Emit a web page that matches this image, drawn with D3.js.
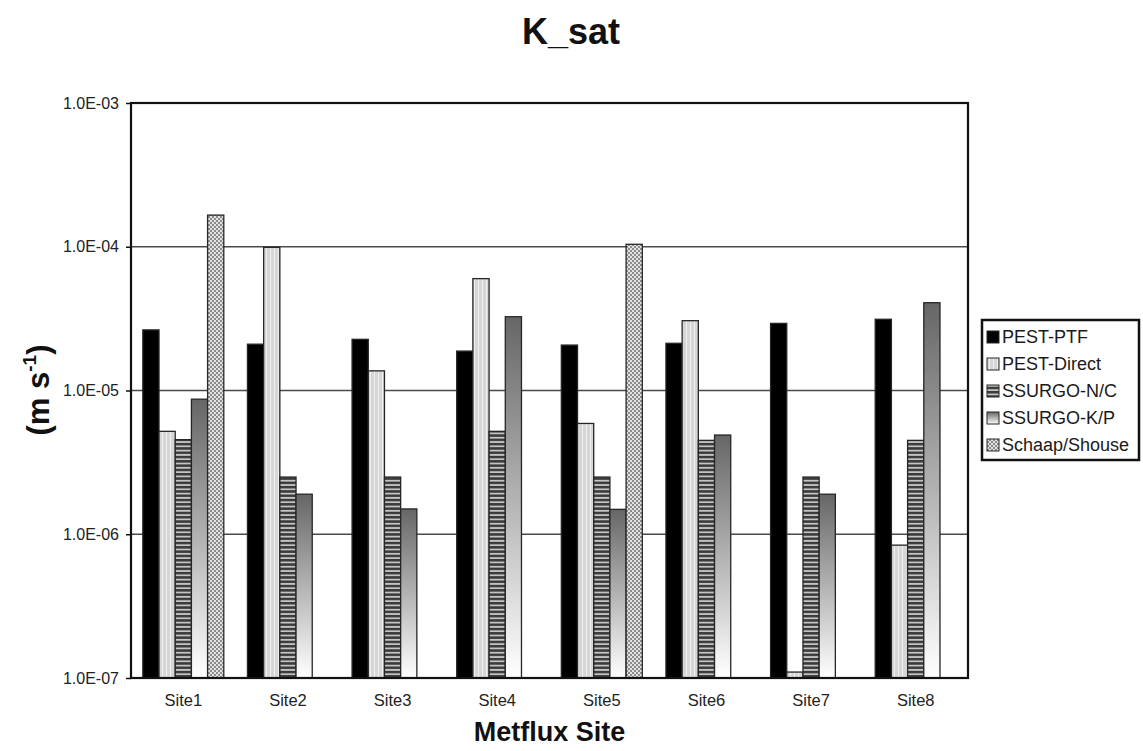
<!DOCTYPE html>
<html>
<head>
<meta charset="utf-8">
<script src="https://cdn.jsdelivr.net/npm/d3@7"></script>
<style>
  html, body { margin: 0; padding: 0; background: #fff; }
  svg { display: block; font-family: "Liberation Sans", Arial, Helvetica, sans-serif; }
</style>
</head>
<body>
<svg id="chart" width="1143" height="751"></svg>
<script>
// Saturated hydraulic conductivity by site and estimation method
const sites = ["Site1", "Site2", "Site3", "Site4", "Site5", "Site6", "Site7", "Site8"];
const seriesNames = ["PEST-PTF", "PEST-Direct", "SSURGO-N/C", "SSURGO-K/P", "Schaap/Shouse"];

const pestPTF    = [2.64e-5, 2.1e-5, 2.27e-5, 1.88e-5, 2.07e-5, 2.13e-5, 2.93e-5, 3.13e-5];
const pestDirect = [5.2e-6, 9.9e-5, 1.37e-5, 6.0e-5, 5.9e-6, 3.06e-5, 1.1e-7, 8.4e-7];
const ssurgoNC   = [4.55e-6, 2.5e-6, 2.5e-6, 5.2e-6, 2.5e-6, 4.5e-6, 2.5e-6, 4.5e-6];
const ssurgoKP   = [8.7e-6, 1.9e-6, 1.5e-6, 3.26e-5, 1.49e-6, 4.9e-6, 1.9e-6, 4.08e-5];
const schaap     = [1.66e-4, null, null, null, 1.04e-4, null, null, null];

const yTicks = [1e-7, 1e-6, 1e-5, 1e-4, 1e-3];
const yTickLabels = ["1.0E-07", "1.0E-06", "1.0E-05", "1.0E-04", "1.0E-03"];

const seriesValues = [pestPTF, pestDirect, ssurgoNC, ssurgoKP, schaap];
const fills = ["#000000", "url(#pDirect)", "url(#pNC)", "url(#gKP)", "url(#pSchaap)"];

const svg = d3.select("#chart");
const plot = { left: 131, right: 968, top: 103, bottom: 678 };

// ---- fill patterns ----
const defs = svg.append("defs");

const pDirect = defs.append("pattern").attr("id", "pDirect")
  .attr("patternUnits", "userSpaceOnUse").attr("width", 4).attr("height", 4);
pDirect.append("rect").attr("width", 4).attr("height", 4).attr("fill", "#d6d6d6");
pDirect.append("rect").attr("x", 2).attr("width", 1).attr("height", 4).attr("fill", "#f0f0f0");

const pNC = defs.append("pattern").attr("id", "pNC")
  .attr("patternUnits", "userSpaceOnUse").attr("width", 4).attr("height", 4.3);
pNC.append("rect").attr("width", 4).attr("height", 4.3).attr("fill", "#c4c4c4");
pNC.append("rect").attr("y", 0).attr("width", 4).attr("height", 2.5).attr("fill", "#3a3a3a");

const gKP = defs.append("linearGradient").attr("id", "gKP")
  .attr("x1", 0).attr("y1", 0).attr("x2", 0).attr("y2", 1);
gKP.append("stop").attr("offset", "0%").attr("stop-color", "#666666");
gKP.append("stop").attr("offset", "100%").attr("stop-color", "#ffffff");

const pSchaap = defs.append("pattern").attr("id", "pSchaap")
  .attr("patternUnits", "userSpaceOnUse").attr("width", 4).attr("height", 4);
pSchaap.append("rect").attr("width", 4).attr("height", 4).attr("fill", "#e2e2e2");
pSchaap.append("rect").attr("x", 0).attr("y", 0).attr("width", 2).attr("height", 2).attr("fill", "#8c8c8c");
pSchaap.append("rect").attr("x", 2).attr("y", 2).attr("width", 2).attr("height", 2).attr("fill", "#8c8c8c");

// ---- scales ----
const x0 = d3.scaleBand().domain(sites).range([plot.left, plot.right]).paddingInner(0).paddingOuter(0);
const x1 = d3.scaleBand().domain(seriesNames).range([0, x0.bandwidth()]).paddingInner(0).paddingOuter(0.73);
const y = d3.scaleLog().domain([1e-7, 1e-3]).range([plot.bottom, plot.top]);

// ---- gridlines ----
svg.append("g")
  .selectAll("line").data(yTicks.slice(1, -1)).join("line")
  .attr("x1", plot.left).attr("x2", plot.right)
  .attr("y1", d => y(d)).attr("y2", d => y(d))
  .attr("stroke", "#4a4a4a").attr("stroke-width", 1.6);

// ---- bars ----
const barData = [];
sites.forEach((s, i) => {
  seriesNames.forEach((n, k) => {
    const v = seriesValues[k][i];
    if (v != null) barData.push({ site: s, series: n, value: v, k });
  });
});

svg.append("g")
  .selectAll("rect").data(barData).join("rect")
  .attr("x", d => x0(d.site) + x1(d.series))
  .attr("width", x1.bandwidth())
  .attr("y", d => y(d.value))
  .attr("height", d => y(1e-7) - y(d.value))
  .attr("fill", d => fills[d.k])
  .attr("stroke", "#262626")
  .attr("stroke-width", 1.3);

// ---- frame and axes ----
svg.append("rect")
  .attr("x", plot.left).attr("y", plot.top)
  .attr("width", plot.right - plot.left).attr("height", plot.bottom - plot.top)
  .attr("fill", "none").attr("stroke", "#111").attr("stroke-width", 2.2);

const yAxis = d3.axisLeft(y).tickValues(yTicks)
  .tickFormat((d, i) => yTickLabels[i]).tickSize(5).tickPadding(7);
const gy = svg.append("g").attr("transform", `translate(${plot.left},0)`).call(yAxis);
gy.select(".domain").remove();
gy.selectAll(".tick line").attr("stroke", "#111").attr("stroke-width", 1.5);
gy.selectAll(".tick text").attr("font-size", 16).attr("fill", "#222")
  .attr("font-family", "'Liberation Sans', Arial, sans-serif");

const xAxis = d3.axisBottom(x0).tickSize(0).tickPadding(16);
const gx = svg.append("g").attr("transform", `translate(0,${plot.bottom})`).call(xAxis);
gx.select(".domain").remove();
gx.selectAll(".tick text").attr("font-size", 16.5).attr("fill", "#222")
  .attr("font-family", "'Liberation Sans', Arial, sans-serif");

// ---- titles ----
svg.append("text")
  .attr("x", 571).attr("y", 44)
  .attr("text-anchor", "middle")
  .attr("font-size", 36).attr("font-weight", "bold").attr("fill", "#111")
  .text("K_sat");

svg.append("text")
  .attr("x", (plot.left + plot.right) / 2).attr("y", 741)
  .attr("text-anchor", "middle")
  .attr("font-size", 27).attr("font-weight", "bold").attr("fill", "#111")
  .text("Metflux Site");

const yTitle = svg.append("text")
  .attr("transform", "translate(49,390) rotate(-90)")
  .attr("text-anchor", "middle")
  .attr("font-size", 31).attr("font-weight", "bold").attr("fill", "#111");
yTitle.append("tspan").text("(m s");
yTitle.append("tspan").attr("font-size", 19).attr("dy", -13).text("-1");
yTitle.append("tspan").attr("dy", 13).text(")");

// ---- legend ----
const legend = svg.append("g").attr("transform", "translate(982,320)");
legend.append("rect")
  .attr("width", 157).attr("height", 140)
  .attr("fill", "#fff").attr("stroke", "#111").attr("stroke-width", 2.5);

const rowY = d3.scalePoint().domain(seriesNames).range([17, 125]);
const items = legend.selectAll("g.item").data(seriesNames).join("g")
  .attr("class", "item")
  .attr("transform", d => `translate(5,${rowY(d)})`);
items.append("rect")
  .attr("x", 0).attr("y", -6).attr("width", 12).attr("height", 12)
  .attr("fill", (d, i) => fills[i])
  .attr("stroke", "#262626").attr("stroke-width", 1);
items.append("text")
  .attr("x", 15).attr("y", 0).attr("dy", "0.36em")
  .attr("font-size", 18).attr("fill", "#1a1a1a")
  .text(d => d);
</script>
</body>
</html>
